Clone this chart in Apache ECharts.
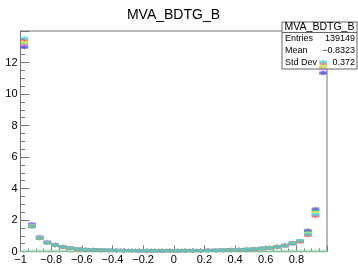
<!DOCTYPE html>
<html>
<head>
<meta charset="utf-8">
<script src="https://cdn.jsdelivr.net/npm/echarts@6/dist/echarts.min.js"></script>
<style>
  html, body { margin: 0; padding: 0; background: #fff; }
  #chart { width: 358px; height: 266px; }
</style>
</head>
<body>
<div id="chart"></div>
<script>
// 40 bins of width 0.05 from -1 to 1
var binLow = -1
var binWidth = 0.05

var cyanVals = [13.55,1.62,0.86,0.56,0.40,0.29,0.21,0.15,0.12,0.10,0.09,0.08,0.07,0.06,0.06,0.05,0.06,0.04,0.05,0.05,0.05,0.05,0.06,0.05,0.06,0.07,0.08,0.09,0.11,0.13,0.16,0.19,0.23,0.29,0.36,0.50,0.68,1.10,2.35,12.05]
var redVals = [13.45,1.60,0.84,0.55,0.39,0.28,0.20,0.14,0.11,0.09,0.08,0.07,0.06,0.06,0.05,0.05,0.04,0.05,0.04,0.05,0.04,0.05,0.05,0.06,0.07,0.06,0.07,0.09,0.10,0.12,0.15,0.18,0.22,0.28,0.35,0.48,0.62,1.02,2.25,11.95]
var yellowVals = [13.30,1.65,0.88,0.57,0.41,0.30,0.22,0.16,0.12,0.10,0.09,0.07,0.07,0.06,0.05,0.06,0.05,0.05,0.05,0.04,0.05,0.05,0.05,0.06,0.06,0.07,0.08,0.09,0.11,0.13,0.17,0.20,0.25,0.30,0.37,0.51,0.64,1.15,2.45,11.75]
var greenVals = [13.25,1.56,0.83,0.54,0.38,0.28,0.21,0.15,0.12,0.10,0.08,0.07,0.06,0.06,0.06,0.05,0.05,0.04,0.05,0.05,0.06,0.07,0.05,0.06,0.06,0.07,0.08,0.10,0.11,0.14,0.16,0.19,0.24,0.30,0.38,0.52,0.65,1.20,2.55,11.70]
var magentaVals = [13.15,1.68,0.89,0.58,0.42,0.30,0.22,0.16,0.13,0.11,0.09,0.08,0.07,0.06,0.06,0.05,0.05,0.05,0.04,0.05,0.05,0.05,0.06,0.06,0.07,0.07,0.08,0.09,0.10,0.12,0.15,0.18,0.22,0.28,0.36,0.49,0.63,1.08,2.30,11.60]
var blueVals = [13.00,1.72,0.91,0.59,0.43,0.31,0.23,0.16,0.13,0.11,0.09,0.08,0.07,0.07,0.06,0.05,0.05,0.05,0.05,0.05,0.05,0.06,0.07,0.06,0.07,0.08,0.09,0.10,0.12,0.14,0.17,0.21,0.25,0.31,0.39,0.54,0.66,1.30,2.66,11.35]
var purpleVals = [12.95,1.75,0.92,0.60,0.44,0.31,0.23,0.17,0.13,0.11,0.10,0.08,0.07,0.07,0.06,0.06,0.05,0.05,0.05,0.05,0.05,0.06,0.06,0.07,0.07,0.08,0.09,0.11,0.12,0.14,0.17,0.21,0.26,0.32,0.40,0.55,0.67,1.35,2.72,11.30]
var paleVals = [0.02,0.02,0.02,0.02,0.02,0.02,0.02,0.02,0.02,0.02,0.02,0.02,0.02,0.02,0.02,0.02,0.02,0.02,0.02,0.02,0.02,0.02,0.02,0.02,0.02,0.02,0.02,0.02,0.02,0.02,0.02,0.02,0.02,0.02,0.02,0.02,0.02,0.02,0.02,0.02]

var yTicks = [0, 2, 4, 6, 8, 10, 12]
var xTicks = [-1, -0.8, -0.6, -0.4, -0.2, 0, 0.2, 0.4, 0.6, 0.8]
var statRows = [['Entries', '139149'], ['Mean', '\u22120.8323'], ['Std Dev', '0.372']]

var histos = [
  { name: 'pale', vals: paleVals, color: '#9fdcb4' },
  { name: 'purple', vals: purpleVals, color: '#7f7fd0' },
  { name: 'blue', vals: blueVals, color: '#4f4ff0' },
  { name: 'magenta', vals: magentaVals, color: '#f060f0' },
  { name: 'green', vals: greenVals, color: '#40c840' },
  { name: 'yellow', vals: yellowVals, color: '#f0f040' },
  { name: 'red', vals: redVals, color: '#f04848' },
  { name: 'cyan', vals: cyanVals, color: '#30e0f0' }
]

function boxItem (params, api) {
  var p0 = api.coord([api.value(0), api.value(2)])
  var p1 = api.coord([api.value(1), api.value(2)])
  return {
    type: 'group',
    children: [
      {
        type: 'rect',
        shape: { x: p0[0], y: p0[1] - 1.5, width: p1[0] - p0[0], height: 3 },
        style: { fill: api.visual('color'), opacity: 0.6 }
      },
      {
        type: 'line',
        shape: { x1: (p0[0] + p1[0]) / 2, y1: p0[1] - 2, x2: (p0[0] + p1[0]) / 2, y2: p0[1] + 2 },
        style: { stroke: api.visual('color'), lineWidth: 1, opacity: 0.8 }
      }
    ]
  }
}

var series = histos.map(function (h) {
  return {
    name: h.name,
    type: 'custom',
    z: 5,
    itemStyle: { color: h.color },
    renderItem: boxItem,
    encode: { x: [0, 1], y: 2 },
    data: h.vals.map(function (v, i) {
      return [binLow + i * binWidth, binLow + (i + 1) * binWidth, v]
    })
  }
})

var font = 'Liberation Sans, Arial, sans-serif'
var statGraphics = [
  { type: 'rect', z: 3, shape: { x: 282, y: 22, width: 75, height: 47 },
    style: { fill: '#fff', stroke: '#666', lineWidth: 1 } },
  { type: 'line', z: 3, shape: { x1: 282, y1: 32.5, x2: 357, y2: 32.5 },
    style: { stroke: '#666', lineWidth: 1 } },
  { type: 'text', z: 3, x: 319.5, y: 27.5,
    style: { text: 'MVA_BDTG_B', font: '10.5px ' + font, fill: '#000', align: 'center', verticalAlign: 'middle' } },
  { type: 'text', z: 3, x: 173.5, y: 15,
    style: { text: 'MVA_BDTG_B', font: '14px ' + font, fill: '#000', align: 'center', verticalAlign: 'middle' } }
]
statRows.forEach(function (r, i) {
  var y = 39 + i * 12
  statGraphics.push({ type: 'text', z: 3, x: 285, y: y,
    style: { text: r[0], font: '9px ' + font, fill: '#000', align: 'left', verticalAlign: 'middle' } })
  statGraphics.push({ type: 'text', z: 3, x: 355, y: y,
    style: { text: r[1], font: '9px ' + font, fill: '#000', align: 'right', verticalAlign: 'middle' } })
})

var myChart = echarts.init(document.getElementById('chart'), null, { renderer: 'canvas' })
myChart.setOption({
  animation: false,
  backgroundColor: '#fff',
  grid: {
    left: 20.5, right: 31, top: 31, bottom: 14.5,
    show: true, borderColor: '#777', borderWidth: 1, backgroundColor: 'transparent'
  },
  xAxis: {
    type: 'value', min: -1, max: 1, interval: 0.2,
    axisLine: { onZero: false, lineStyle: { color: '#777' } },
    axisTick: { inside: true, length: 6, lineStyle: { color: '#777' } },
    minorTick: { show: true, splitNumber: 4, length: 3, lineStyle: { color: '#777' } },
    splitLine: { show: false },
    axisLabel: {
      margin: 3, fontSize: 11, fontFamily: font, color: '#000',
      formatter: function (v) { return xTicks.indexOf(Math.round(v * 10) / 10) >= 0 ? String(Math.round(v * 10) / 10).replace('-', '\u2212') : '' }
    }
  },
  yAxis: {
    type: 'value', min: 0, max: 14, interval: 2,
    axisLine: { show: true, onZero: false, lineStyle: { color: '#777' } },
    axisTick: { show: true, inside: true, length: 9, lineStyle: { color: '#777' } },
    minorTick: { show: true, splitNumber: 4, length: 4.5, lineStyle: { color: '#777' } },
    splitLine: { show: false },
    axisLabel: {
      margin: 3, fontSize: 11, fontFamily: font, color: '#000',
      formatter: function (v) { return yTicks.indexOf(v) >= 0 ? String(v) : '' }
    }
  },
  graphic: statGraphics,
  series: series
})
</script>
</body>
</html>
